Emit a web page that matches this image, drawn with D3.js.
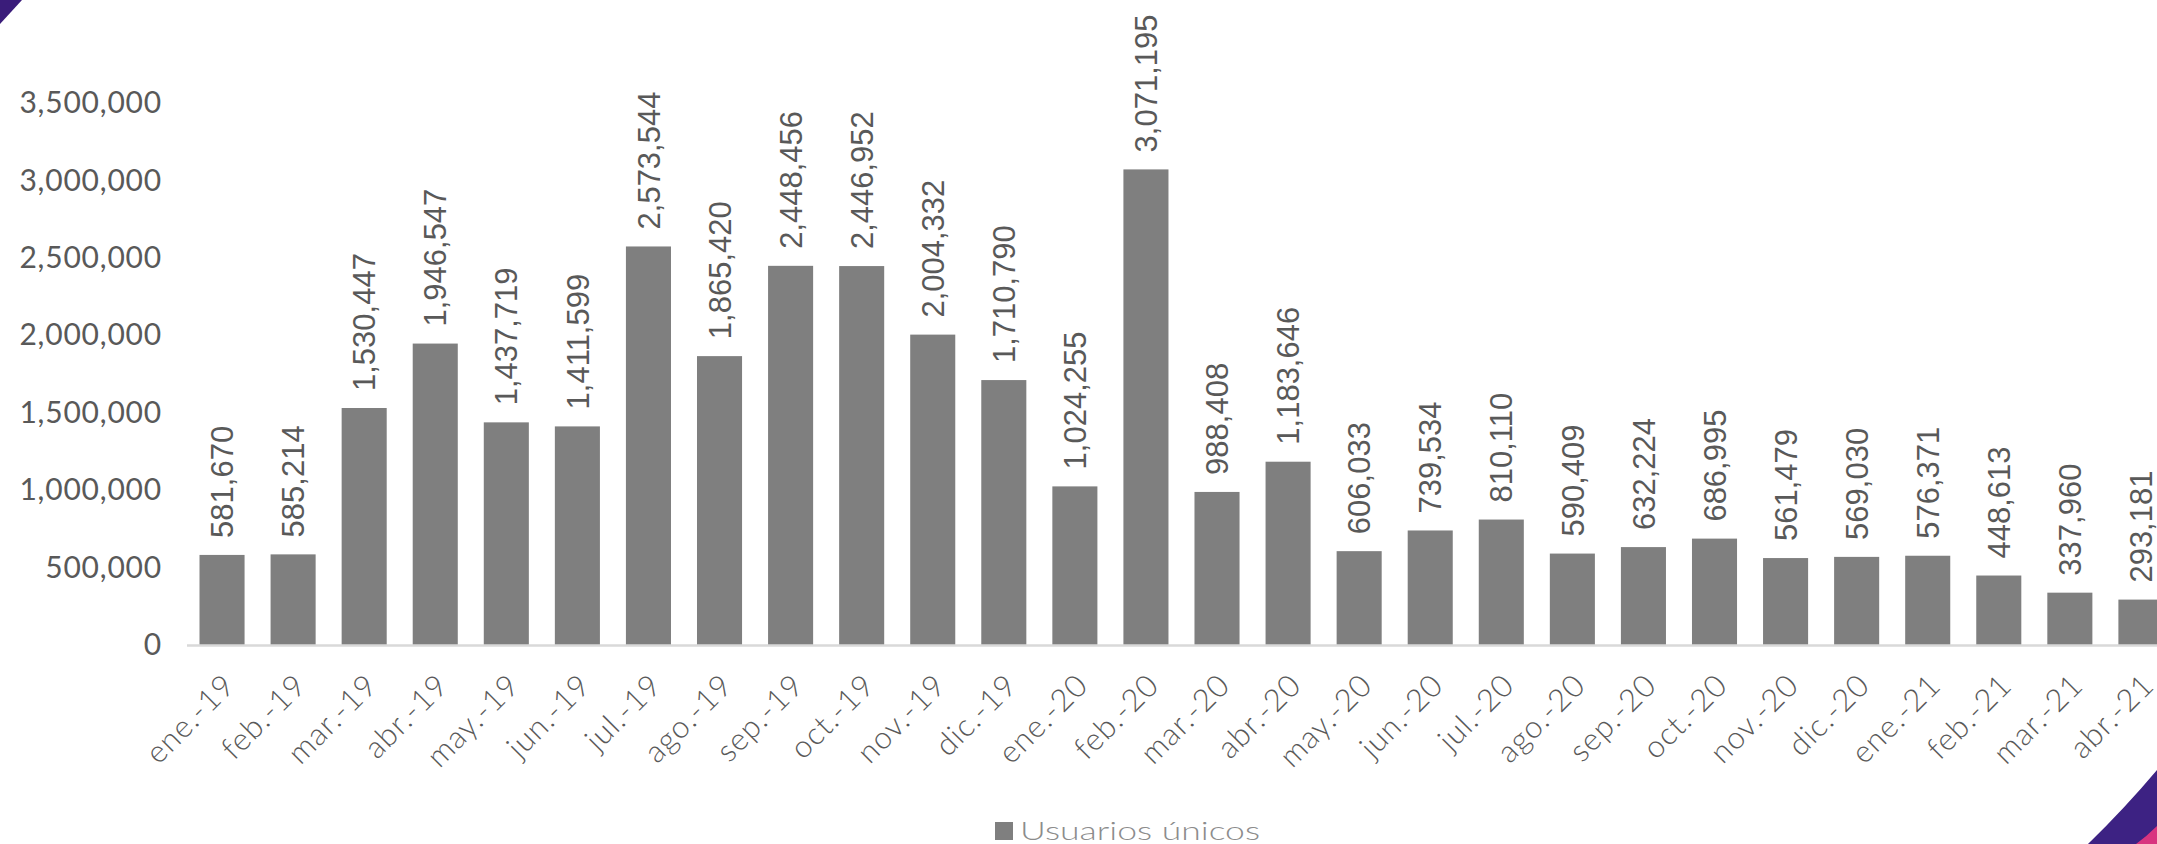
<!DOCTYPE html>
<html>
<head>
<meta charset="utf-8">
<script src="https://cdn.jsdelivr.net/npm/d3@7"></script>
<style>
  body { margin: 0; background: #fff; overflow: hidden; }
  svg { display: block; }
</style>
</head>
<body>
<script>
// data
const months = ["ene.-19","feb.-19","mar.-19","abr.-19","may.-19","jun.-19","jul.-19","ago.-19","sep.-19","oct.-19","nov.-19","dic.-19",
  "ene.-20","feb.-20","mar.-20","abr.-20","may.-20","jun.-20","jul.-20","ago.-20","sep.-20","oct.-20","nov.-20","dic.-20",
  "ene.-21","feb.-21","mar.-21","abr.-21"]
const users = [581670, 585214, 1530447, 1946547, 1437719, 1411599, 2573544, 1865420, 2448456, 2446952, 2004332, 1710790,
  1024255, 3071195, 988408, 1183646, 606033, 739534, 810110, 590409, 632224, 686995, 561479, 569030,
  576371, 448613, 337960, 293181]
const yTicks = [0, 500000, 1000000, 1500000, 2000000, 2500000, 3000000, 3500000]
const seriesName = "Usuarios únicos"

const width = 2157, height = 844
const fontMain = "Lato, 'Open Sans', sans-serif"

const svg = d3.select("body").append("svg")
    .attr("width", width)
    .attr("height", height)

// scales
const xScale = d3.scaleBand()
    .domain(months)
    .range([186.5, 186.5 + months.length * 71.07])
    .paddingInner(0.366)
    .paddingOuter(0.183)

const yScale = d3.scaleLinear()
    .domain([0, 3500000])
    .range([645, 103])

// y axis labels
const yAxis = svg.append("g")
    .attr("transform", "translate(162,0)")
    .call(d3.axisLeft(yScale).tickValues(yTicks).tickFormat(d3.format(",")).tickSize(0).tickPadding(0))
yAxis.select(".domain").remove()
yAxis.selectAll("text")
    .attr("fill", "#595959")
    .style("font-family", fontMain)
    .style("font-weight", 400)
    .style("font-size", "30px")
    .style("letter-spacing", "0.8px")

// bars
svg.append("g").selectAll("rect")
    .data(users)
    .join("rect")
    .attr("x", (d, i) => xScale(months[i]))
    .attr("y", d => yScale(d))
    .attr("width", xScale.bandwidth())
    .attr("height", d => yScale(0) - yScale(d))
    .attr("fill", "#7f7f7f")

// baseline + month labels
const xAxis = svg.append("g")
    .attr("transform", `translate(0,${yScale(0)})`)
    .call(d3.axisBottom(xScale).tickSize(0).tickPadding(0))
xAxis.select(".domain")
    .attr("stroke", "#d9d9d9")
    .attr("stroke-width", 2.5)
xAxis.selectAll("text")
    .attr("fill", "#595959")
    .attr("text-anchor", "end")
    .attr("dy", 0)
    .attr("y", 0)
    .attr("transform", "translate(15,42) rotate(-45)")
    .style("font-family", fontMain)
    .style("font-weight", 300)
    .style("font-size", "31px")
    .style("letter-spacing", "1px")

// value labels
svg.append("g").selectAll("text")
    .data(users)
    .join("text")
    .attr("transform", (d, i) => `translate(${xScale(months[i]) + xScale.bandwidth() / 2},${yScale(d) - 17}) rotate(-90)`)
    .attr("dy", "0.36em")
    .attr("fill", "#595959")
    .style("font-family", "'Liberation Sans', Arial, sans-serif")
    .style("font-size", "31px")
    .text(d => d3.format(",")(d))

// legend
const legend = svg.append("g")
legend.append("rect")
    .attr("x", 995).attr("y", 822)
    .attr("width", 18).attr("height", 18)
    .attr("fill", "#7f7f7f")
legend.append("text")
    .attr("x", 1020).attr("y", 840)
    .attr("fill", "#8c8c8c")
    .attr("textLength", 240)
    .attr("lengthAdjust", "spacingAndGlyphs")
    .style("font-family", fontMain)
    .style("font-weight", 300)
    .style("font-size", "26px")
    .text(seriesName)

// corner decorations
svg.append("path")
    .attr("d", "M0,0 L22,0 L0,24 Z")
    .attr("fill", "#3a1c7a")
svg.append("path")
    .attr("d", "M2088,844 Q2125,808 2157,770 L2157,844 Z")
    .attr("fill", "#3d2283")
svg.append("path")
    .attr("d", "M2136,844 Q2147,836 2157,826 L2157,844 Z")
    .attr("fill", "#d8347f")
</script>
</body>
</html>
